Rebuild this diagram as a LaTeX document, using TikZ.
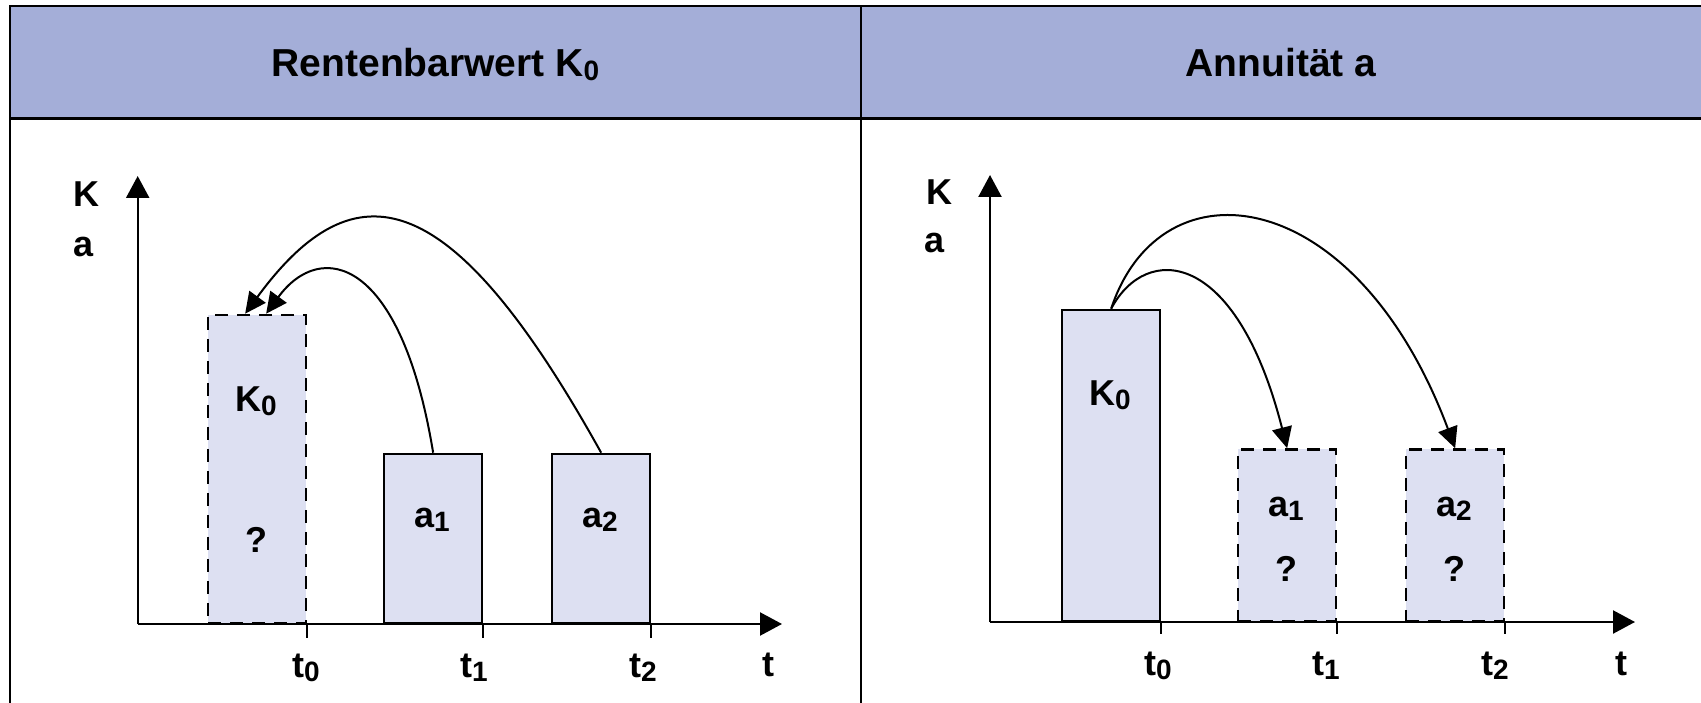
\documentclass[tikz,border=0pt]{standalone}
\usepackage{fontspec}
\setmainfont{Liberation Sans}
\usetikzlibrary{arrows.meta}
\definecolor{headblue}{RGB}{164,174,216}
\definecolor{barblue}{RGB}{221,224,242}
\newcommand{\lo}[1]{\raisebox{-4pt}{\fontsize{28}{28}\selectfont #1}}

\begin{document}
\begin{tikzpicture}[x=1pt, y=-1pt,
    bar/.style={draw, line width=2.3pt, fill=barblue, minimum width=98pt, anchor=south west, inner sep=0pt},
    unknown/.style={bar, dash pattern=on 13pt off 9pt},
    lbl/.style={font=\fontsize{36}{40}\selectfont\bfseries, anchor=base, inner sep=0pt},
    axis/.style={line width=2.3pt, -{Triangle[length=22pt, width=23pt]}},
    flow/.style={line width=2pt, -{Triangle[length=21pt, width=20pt]}}]
    \useasboundingbox (0,0) rectangle (1701,703);

    \fill[headblue] (10,6) rectangle (1701,118.5);
    \draw[line width=2.5pt] (1701,6) -- (10,6) -- (10,703);
    \draw[line width=2.5pt] (10,118.5) -- (1701,118.5);
    \draw[line width=2.3pt] (861,6) -- (861,703);
    \node[font=\fontsize{39}{44}\selectfont\bfseries, anchor=base] (titleL) at (435.5,77) {Rentenbarwert K\lo{0}};
    \node[font=\fontsize{39}{44}\selectfont\bfseries, anchor=base] (titleR) at (1281,77) {Annuität a};

    % Rentenbarwert
    \node[unknown, minimum height=308pt] (k0L) at (207,624) {};
    \node[bar, minimum height=169pt] (a1L) at (383,624) {};
    \node[bar, minimum height=169pt] (a2L) at (551,624) {};

    \coordinate (oL) at (137.7,624);
    \coordinate (yL) at (137.7,176);
    \coordinate (xL) at (782,624);
    \draw[axis] (oL) -- (yL);
    \draw[axis] (oL) -- (xL);
    \draw[line width=2.3pt] (k0L.south east) -- ++(0,14);
    \draw[line width=2.3pt] (a1L.south east) -- ++(0,14);
    \draw[line width=2.3pt] (a2L.south east) -- ++(0,14);

    \draw[flow] (a1L.north) .. controls +(-32,-195) and +(55,-75) .. ([xshift=9pt]k0L.north);
    \draw[flow] (a2L.north) .. controls +(-150,-270) and +(110,-150) .. ([xshift=-12pt]k0L.north);

    \node[lbl, anchor=base west] (kL) at (73,207) {K};
    \node[lbl, anchor=base west] (aL) at (73,257) {a};
    \node[lbl] (k0Ltxt) at (256,411) {K\lo{0}};
    \node[lbl] (qL) at (256,552) {?};
    \node[lbl] (a1Ltxt) at (432,527) {a\lo{1}};
    \node[lbl] (a2Ltxt) at (600,527) {a\lo{2}};
    \node[lbl] (t0L) at (306,677) {t\lo{0}};
    \node[lbl] (t1L) at (474,677) {t\lo{1}};
    \node[lbl] (t2L) at (643,677) {t\lo{2}};
    \node[lbl] (tL) at (768,676) {t};

    % Annuitaet
    \node[bar, minimum height=311pt] (k0R) at (1061,622) {};
    \node[unknown, minimum height=171.5pt] (a1R) at (1237,622) {};
    \node[unknown, minimum height=171.5pt] (a2R) at (1405,622) {};

    \coordinate (oR) at (990,622);
    \coordinate (yR) at (990,175);
    \coordinate (xR) at (1635,622);
    \draw[axis] (oR) -- (yR);
    \draw[axis] (oR) -- (xR);
    \draw[line width=2.3pt] (k0R.south east) -- ++(0,12);
    \draw[line width=2.3pt] (a1R.south east) -- ++(0,12);
    \draw[line width=2.3pt] (a2R.south east) -- ++(0,12);

    \draw[flow] (k0R.north) .. controls +(35,-66) and +(-51,-200) .. (a1R.north);
    \draw[flow] (k0R.north) .. controls +(50,-151) and +(-99,-265) .. (a2R.north);

    \node[lbl, anchor=base west] (kR) at (926,205) {K};
    \node[lbl, anchor=base west] (aR) at (924,253) {a};
    \node[lbl] (k0Rtxt) at (1110,406) {K\lo{0}};
    \node[lbl] (a1Rtxt) at (1286,516) {a\lo{1}};
    \node[lbl] (q1R) at (1286,581) {?};
    \node[lbl] (a2Rtxt) at (1454,516) {a\lo{2}};
    \node[lbl] (q2R) at (1454,581) {?};
    \node[lbl] (t0R) at (1158,675) {t\lo{0}};
    \node[lbl] (t1R) at (1326,675) {t\lo{1}};
    \node[lbl] (t2R) at (1495,675) {t\lo{2}};
    \node[lbl] (tR) at (1621,675) {t};
\end{tikzpicture}
\end{document}
